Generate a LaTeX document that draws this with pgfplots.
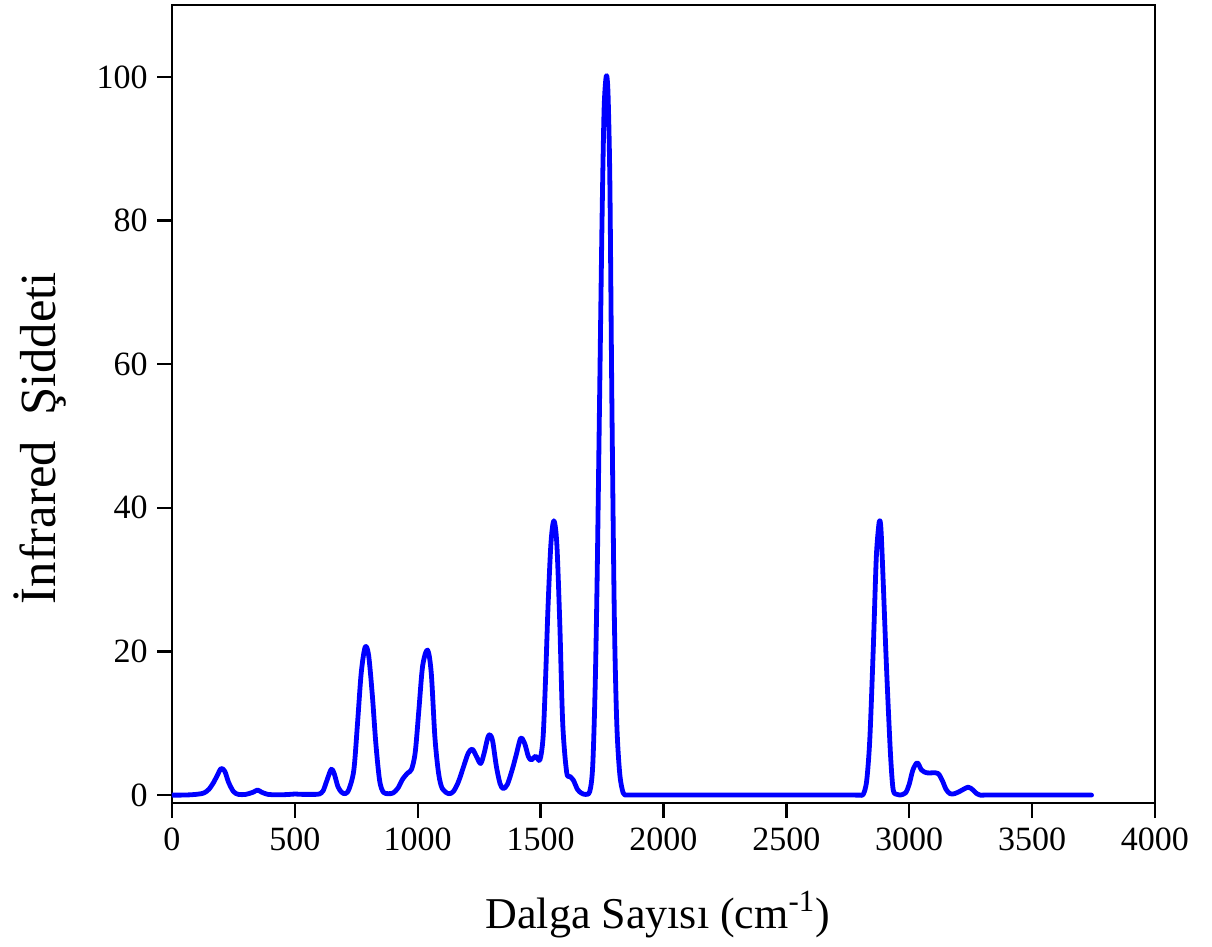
\documentclass[border=0pt]{standalone}
\usepackage{pgfplots}
\pgfplotsset{compat=1.18}
\usepackage{fontspec}
\setmainfont{Liberation Serif}
\definecolor{specblue}{RGB}{0,0,255}
\pgfplotstableread{
x y
0 0
40 0
80 0.05
110 0.15
130 0.3
150 0.8
170 1.8
185 2.8
200 3.7
215 3.3
230 1.8
250 0.5
270 0.1
300 0.1
330 0.4
348 0.7
365 0.4
390 0.1
420 0.05
450 0.05
480 0.1
500 0.15
530 0.1
560 0.1
585 0.1
600 0.15
615 0.6
630 2.0
648 3.6
660 3.0
675 1.2
690 0.4
705 0.2
720 0.8
740 3.5
755 10
770 17
786 20.6
800 19.5
815 14
830 7
845 2
860 0.4
880 0.2
900 0.3
920 1.0
940 2.3
960 3.1
975 3.6
990 6
1005 12
1020 18
1040 20.2
1055 17
1070 8
1085 3
1100 0.9
1126 0.2
1145 0.5
1165 1.8
1185 3.8
1205 5.8
1222 6.4
1240 5.3
1256 4.4
1270 5.8
1285 8.0
1294 8.4
1305 7.5
1320 4
1335 1.6
1348 0.9
1365 1.5
1385 3.6
1400 5.5
1419 7.9
1435 7.2
1450 5.4
1462 4.9
1480 5.4
1497 4.9
1510 8
1520 16
1530 26
1542 35
1554 38.2
1566 35
1578 24
1590 10
1606 3.2
1620 2.6
1633 2.1
1650 0.8
1665 0.3
1681 0.1
1700 0.5
1712 4
1722 15
1730 30
1740 55
1750 80
1758 95
1765 99.5
1770 100
1775 97
1782 85
1790 55
1800 25
1810 10
1822 3
1836 0.3
1850 0
1865 0
1885 0
1915 0
1960 0
2050 0
2200 0
2400 0
2600 0
2700 0
2750 0
2780 0
2800 0
2813 0.1
2827 2
2840 8
2854 20.6
2866 33
2876 37.5
2881 38.2
2886 36.5
2895 29
2905 20
2915 12
2925 5
2935 0.7
2950 0.1
2962 0
2985 0.3
3000 1.5
3015 3.5
3033 4.5
3050 3.5
3071 3.1
3095 3.1
3118 3.0
3135 2.0
3150 0.8
3166 0.2
3185 0.2
3210 0.6
3240 1.1
3260 0.7
3275 0.2
3288 0
3305 0
3330 0
3370 0
3440 0
3550 0
3650 0
3742 0
}\spectrum
\begin{document}
\begin{tikzpicture}
\begin{axis}[
  scale only axis,
  width=368.6pt, height=299.25pt,
  xmin=0, xmax=4000, ymin=-1.11, ymax=110,
  xtick={0,500,...,4000},
  ytick={0,20,...,100},
  tick align=outside,
  xtick pos=bottom, ytick pos=left,
  major tick length=5.6pt,
  axis line style={line width=0.9pt},
  every tick/.style={black, line width=0.9pt},
  /pgf/number format/assume math mode=true,
  /pgf/number format/set thousands separator={},
  tick label style={font=\fontsize{12.75}{15}\selectfont},
  every axis y label/.style={at={(axis description cs:-0.1343,0.4574)},rotate=90,anchor=center,font=\fontsize{19}{22}\selectfont},
  every axis x label/.style={at={(axis description cs:0.4944,-0.1566)},anchor=base,font=\fontsize{16.5}{19}\selectfont},
  xlabel={Dalga Sayısı (cm\textsuperscript{-1})},
  ylabel={İnfrared\ \ Şiddeti},
]
\addplot[specblue, line width=1.8pt, smooth, line join=round, line cap=round] table[x=x,y=y]{\spectrum};
\end{axis}
\path ([xshift=-64.5pt,yshift=-52.9pt]current axis.south west) rectangle ([xshift=21.4pt,yshift=1.9pt]current axis.north east);
\end{tikzpicture}
\end{document}
